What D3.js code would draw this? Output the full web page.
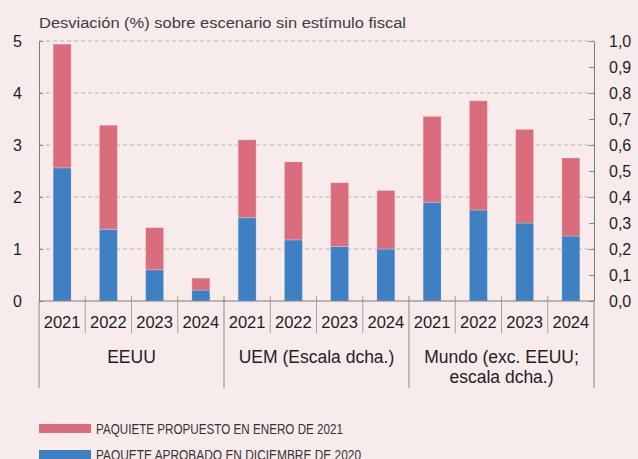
<!DOCTYPE html>
<html>
<head>
<meta charset="utf-8">
<script src="https://cdn.jsdelivr.net/npm/d3@7"></script>
<style>
	html, body { margin: 0; padding: 0; background: #f8ebec; }
	svg { display: block; font-family: "Liberation Sans", Arial, Helvetica, sans-serif; }
</style>
</head>
<body>
<script>
var SIZE = { width: 638, height: 459 };
var PLOT = { left: 39, right: 594, top: 41, bottom: 301 };

var groups = ['EEUU', 'UEM (Escala dcha.)', 'Mundo (exc. EEUU;\nescala dcha.)'];
var years = ['2021', '2022', '2023', '2024'];

// blue part: approved Dec 2020; red part: extra from the Jan 2021 proposal
var eeuuApproved = [2.56, 1.38, 0.60, 0.21];
var eeuuProposed = [2.38, 2.00, 0.81, 0.23];
var uemApproved = [0.32, 0.235, 0.21, 0.20];
var uemProposed = [0.30, 0.30, 0.245, 0.225];
var mundoApproved = [0.38, 0.35, 0.30, 0.25];
var mundoProposed = [0.33, 0.42, 0.36, 0.30];

var leftTicks = [0, 1, 2, 3, 4, 5];
var rightTicks = [0, 0.1, 0.2, 0.3, 0.4, 0.5, 0.6, 0.7, 0.8, 0.9, 1.0];
var gridValues = [1, 2, 3, 4, 5];

var legendLabels = ['PAQUIETE PROPUESTO EN ENERO DE 2021', 'PAQUETE APROBADO EN DICIEMBRE DE 2020'];
var COLORS = { approved: '#3f80c2', proposed: '#d96d7b' };

var yLeft = d3.scaleLinear().domain([0, 5]).range([PLOT.bottom, PLOT.top]);
var yRight = d3.scaleLinear().domain([0, 1]).range([PLOT.bottom, PLOT.top]);

var rows = buildRows();
var x = d3.scaleBand()
	.domain(rows.map(function (r) { return r.key; }))
	.range([PLOT.left, PLOT.right])
	.padding(0);

var esLocale = d3.formatLocale({ decimal: ',', thousands: '.', grouping: [3], currency: ['', ' €'] });

drawChart();

function buildRows() {
	var sets = [
		{ approved: eeuuApproved, proposed: eeuuProposed, scale: yLeft },
		{ approved: uemApproved, proposed: uemProposed, scale: yRight },
		{ approved: mundoApproved, proposed: mundoProposed, scale: yRight }
	];
	var out = [];
	sets.forEach(function (s, g) {
		years.forEach(function (yr, i) {
			out.push({
				key: g + '-' + yr,
				group: g,
				year: yr,
				approved: s.approved[i],
				proposed: s.proposed[i],
				scale: s.scale
			});
		});
	});
	return out;
}

function drawChart() {
	var svg = d3.select('body')
		.append('svg')
		.attr('width', SIZE.width)
		.attr('height', SIZE.height);

	svg.append('text')
		.attr('x', PLOT.left)
		.attr('y', 28)
		.attr('font-size', 15.5)
		.attr('fill', '#3c3c3c')
		.attr('textLength', 367)
		.attr('lengthAdjust', 'spacingAndGlyphs')
		.text('Desviación (%) sobre escenario sin estímulo fiscal');

	// dashed grid
	svg.append('g')
		.selectAll('line')
		.data(gridValues)
		.enter()
		.append('line')
		.attr('x1', PLOT.left)
		.attr('x2', PLOT.right)
		.attr('y1', function (d) { return yLeft(d); })
		.attr('y2', function (d) { return yLeft(d); })
		.attr('stroke', '#b9b3b3')
		.attr('stroke-width', 1)
		.attr('stroke-dasharray', '4,3');

	drawBars(svg);
	drawAxes(svg);
	drawCategories(svg);
	drawLegend(svg);
}

function drawBars(svg) {
	var series = d3.stack().keys(['approved', 'proposed'])(rows);
	var barWidth = 18;

	svg.append('g')
		.selectAll('g')
		.data(series)
		.enter()
		.append('g')
		.attr('fill', function (s) { return COLORS[s.key]; })
		.selectAll('rect')
		.data(function (s) { return s; })
		.enter()
		.append('rect')
		.attr('x', function (d) { return x(d.data.key) + (x.bandwidth() - barWidth) / 2; })
		.attr('width', barWidth)
		.attr('y', function (d) { return d.data.scale(d[1]); })
		.attr('height', function (d) { return d.data.scale(d[0]) - d.data.scale(d[1]); })
		.attr('stroke', 'rgba(255,255,255,0.3)')
		.attr('stroke-width', 0.8);
}

function drawAxes(svg) {
	var left = svg.append('g')
		.attr('transform', 'translate(' + PLOT.left + ',0)')
		.call(d3.axisLeft(yLeft)
			.tickValues(leftTicks)
			.tickSizeInner(-4)
			.tickSizeOuter(0)
			.tickPadding(17)
			.tickFormat(d3.format('d')));

	var right = svg.append('g')
		.attr('transform', 'translate(' + PLOT.right + ',0)')
		.call(d3.axisRight(yRight)
			.tickValues(rightTicks)
			.tickSizeInner(-5)
			.tickSizeOuter(0)
			.tickPadding(15)
			.tickFormat(esLocale.format('.1f')));

	[left, right].forEach(function (ax) {
		ax.select('.domain').attr('stroke', '#7a7a7a');
		ax.selectAll('.tick line').attr('stroke', '#8a8a8a');
		ax.selectAll('.tick text')
			.attr('font-size', 16)
			.attr('fill', '#1e1e1e')
			.attr('font-family', null);
		ax.attr('font-family', null);
	});

	// x baseline
	svg.append('line')
		.attr('x1', PLOT.left)
		.attr('x2', PLOT.right)
		.attr('y1', PLOT.bottom)
		.attr('y2', PLOT.bottom)
		.attr('stroke', '#7a7a7a');
}

function drawCategories(svg) {
	var bw = x.bandwidth();
	var edges = d3.range(rows.length + 1);

	svg.append('g')
		.selectAll('line')
		.data(edges)
		.enter()
		.append('line')
		.attr('x1', function (i) { return PLOT.left + i * bw; })
		.attr('x2', function (i) { return PLOT.left + i * bw; })
		.attr('y1', function (i) { return (i === 0 || i === rows.length) ? PLOT.bottom : PLOT.bottom - 5; })
		.attr('y2', function (i) { return i % years.length === 0 ? 388 : 333; })
		.attr('stroke', function (i) { return i % years.length === 0 ? '#8a8a8a' : '#a3a0a0'; })
		.attr('stroke-width', 1);

	svg.append('g')
		.selectAll('text')
		.data(rows)
		.enter()
		.append('text')
		.attr('x', function (d) { return x(d.key) + bw / 2; })
		.attr('y', 328)
		.attr('text-anchor', 'middle')
		.attr('font-size', 16.5)
		.attr('fill', '#1e1e1e')
		.text(function (d) { return d.year; });

	var groupLabels = svg.append('g')
		.selectAll('text')
		.data(groups)
		.enter()
		.append('text')
		.attr('x', function (d, g) { return PLOT.left + (g * years.length + years.length / 2) * bw; })
		.attr('y', 363)
		.attr('text-anchor', 'middle')
		.attr('font-size', 17.5)
		.attr('fill', '#1e1e1e');

	groupLabels.selectAll('tspan')
		.data(function (d, g) {
			return d.split('\n').map(function (line) { return { line: line, g: g }; });
		})
		.enter()
		.append('tspan')
		.attr('x', function (t) { return PLOT.left + (t.g * years.length + years.length / 2) * bw; })
		.attr('dy', function (t, i) { return i === 0 ? 0 : 20; })
		.text(function (t) { return t.line; });
}

function drawLegend(svg) {
	var keys = ['proposed', 'approved'];
	var widths = [247, 265];

	var item = svg.append('g')
		.selectAll('g')
		.data(keys)
		.enter()
		.append('g')
		.attr('transform', function (d, i) { return 'translate(' + PLOT.left + ',' + (424 + i * 26) + ')'; });

	item.append('rect')
		.attr('width', 52)
		.attr('height', 9)
		.attr('fill', function (d) { return COLORS[d]; });

	item.append('text')
		.attr('x', 57)
		.attr('y', 10)
		.attr('font-size', 15)
		.attr('fill', '#3a3232')
		.attr('textLength', function (d, i) { return widths[i]; })
		.attr('lengthAdjust', 'spacingAndGlyphs')
		.text(function (d, i) { return legendLabels[i]; });
}
</script>
</body>
</html>
